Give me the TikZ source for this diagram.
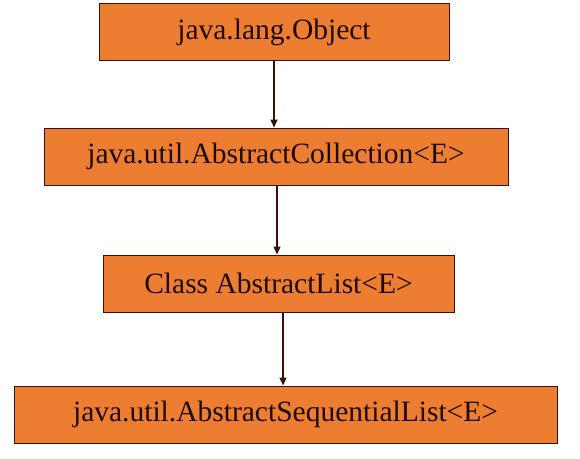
\documentclass[tikz,border=0pt]{standalone}
\usepackage{fontspec}
\setmainfont{Liberation Serif}
\usepackage{tikz}
\usetikzlibrary{arrows.meta}
\definecolor{box-orange}{HTML}{ED7D31}
\definecolor{dark-brown}{HTML}{3B0F0A}
\definecolor{text-brown}{HTML}{1E0A05}
\newcommand*\cls[1]{\fontsize{29.5}{34}\selectfont #1}

\begin{document}
\begin{tikzpicture}[x=1pt,y=-1pt,
				classbox/.style={draw=dark-brown,fill=box-orange,line width=1pt,minimum height=57pt,inner sep=0pt,text=text-brown},
				inherit/.style={-{Triangle[length=8pt,width=7pt]},draw=dark-brown,line width=1.4pt}]
				\useasboundingbox (0,0) rectangle (580,458);
				\node (object) [classbox,minimum width=350pt] at (274,32) {\cls{java.lang.Object}};
				\node (collection) [classbox,minimum width=464pt] at (276,156.5) {\cls{java.util.AbstractCollection<E>}};
				\node (list) [classbox,minimum width=351pt] at (278.5,283.5) {\cls{Class AbstractList<E>}};
				\node (seqlist) [classbox,minimum width=543pt] at (285.5,414.5) {\cls{java.util.AbstractSequentialList<E>}};
				\draw[inherit] (object.south) -- ([xshift=-2pt]collection.north);
				\draw[inherit] ([xshift=1pt]collection.south) -- ([xshift=-1.5pt]list.north);
				\draw[inherit] ([xshift=4.5pt]list.south) -- ([xshift=-2.5pt]seqlist.north);
				\end{tikzpicture}
\end{document}
